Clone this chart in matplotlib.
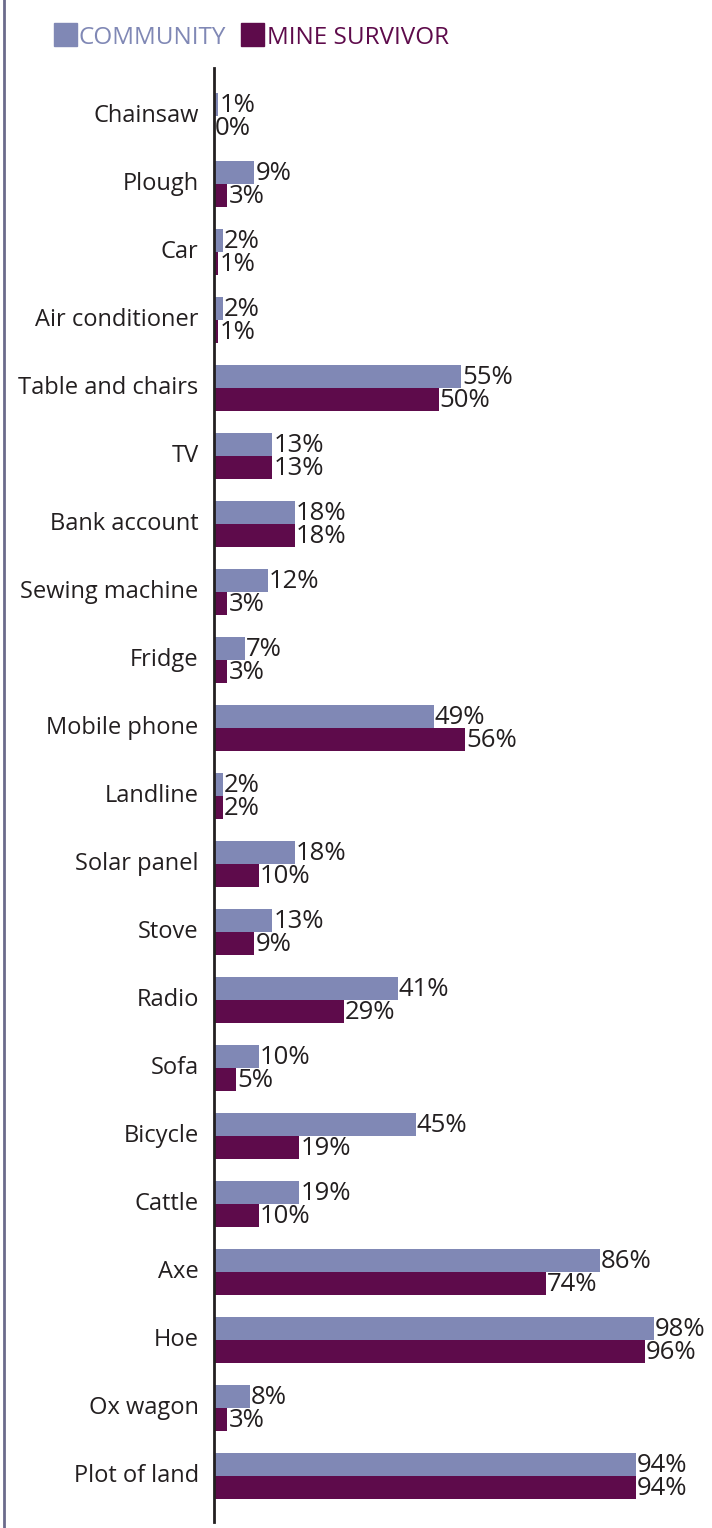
import numpy as np
import matplotlib.pyplot as plt
from matplotlib.patches import Rectangle
from matplotlib.lines import Line2D

plt.rcParams['font.family'] = ['Open Sans', 'DejaVu Sans']

items = ['Chainsaw', 'Plough', 'Car', 'Air conditioner', 'Table and chairs',
         'TV', 'Bank account', 'Sewing machine', 'Fridge', 'Mobile phone',
         'Landline', 'Solar panel', 'Stove', 'Radio', 'Sofa', 'Bicycle',
         'Cattle', 'Axe', 'Hoe', 'Ox wagon', 'Plot of land']
community = [1, 9, 2, 2, 55, 13, 18, 12, 7, 49, 2, 18, 13, 41, 10, 45, 19, 86, 98, 8, 94]
survivor = [0, 3, 1, 1, 50, 13, 18, 3, 3, 56, 2, 10, 9, 29, 5, 19, 10, 74, 96, 3, 94]

c_comm = '#8088b5'
c_surv = '#5e0b4b'
c_text = '#231f20'

W, H = 712, 1528
fig = plt.figure(figsize=(W / 100, H / 100), dpi=100)

# axes: zero line at x=214 px, 100% at x=663 px
ax = fig.add_axes([214 / W, 1 - 1522 / H, (663 - 214) / W, (1522 - 68) / H])
y = np.arange(len(items))
bh = 23 / 68

ax.barh(y - bh / 2, community, height=bh, color=c_comm)
ax.barh(y + bh / 2, survivor, height=bh, color=c_surv)

for yi, v in zip(y, community):
    ax.text(v + 0.2, yi - bh / 2 + 0.02, f'{v}%', va='center', ha='left',
            fontsize=18.5, color=c_text)
for yi, v in zip(y, survivor):
    ax.text(v + 0.2, yi + bh / 2 + 0.02, f'{v}%', va='center', ha='left',
            fontsize=18.5, color=c_text)

ax.set_xlim(0, 100)
ax.set_ylim(20 + 46 / 68, -48 / 68)
ax.set_yticks(y - 0.05)
ax.set_yticklabels(items, fontsize=17, color=c_text)
ax.tick_params(axis='y', length=0, pad=11)
ax.set_xticks([])
for s in ['top', 'right', 'bottom']:
    ax.spines[s].set_visible(False)
ax.spines['left'].set_linewidth(2)
ax.spines['left'].set_color(c_text)
ax.patch.set_alpha(0)

# legend drawn in figure pixels
def px(x, yy):
    return x / W, 1 - yy / H

fig.add_artist(Rectangle(px(54, 46), 23 / W, 23 / H, color=c_comm,
                         transform=fig.transFigure))
fig.text(*px(79, 38), 'COMMUNITY', color=c_comm, fontsize=17.5, va='center')
fig.add_artist(Rectangle(px(241, 46), 23 / W, 23 / H, color=c_surv,
                         transform=fig.transFigure))
fig.text(*px(267, 38), 'MINE SURVIVOR', color=c_surv, fontsize=17.5, va='center')

# thin rule along the left edge
fig.add_artist(Line2D([4 / W, 4 / W], [0, 1], color='#6b6b8c', lw=2,
                      transform=fig.transFigure))

fig.savefig('out.png', dpi=100)
